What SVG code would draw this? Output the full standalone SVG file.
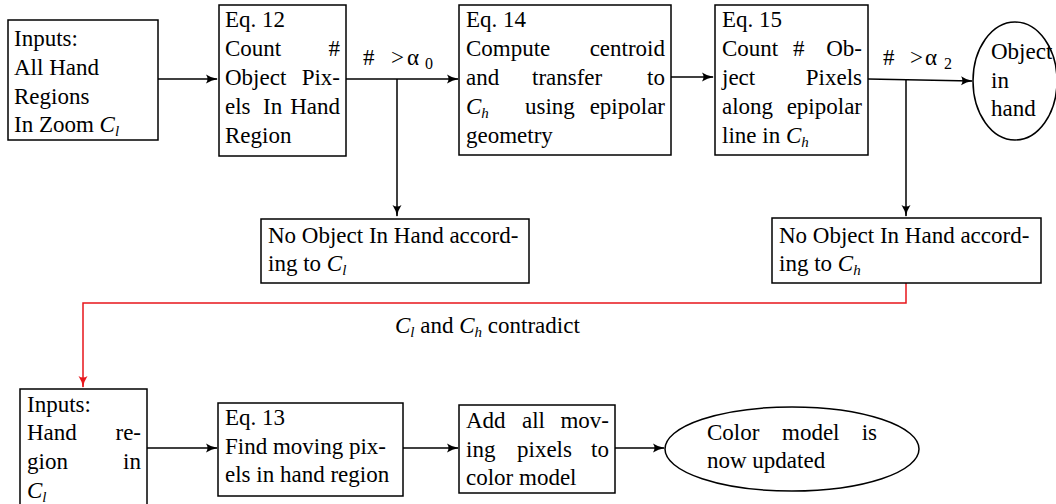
<svg xmlns="http://www.w3.org/2000/svg" width="1056" height="504" viewBox="0 0 1056 504">
<style>
.t{font-family:"Liberation Serif","Times New Roman",serif;font-size:23px;fill:#000}
.r{text-anchor:end}
.i{font-style:italic}
.s{font-size:15px;font-style:italic}
.n{font-size:16px}
.box{fill:#fff;stroke:#000;stroke-width:1.5}
.c{fill:none;stroke:#000;stroke-width:1.5}
.red{fill:none;stroke:#e8161b;stroke-width:1.5}
</style>
<defs>
<marker id="a" viewBox="0 0 12 10" refX="11" refY="5" markerWidth="12" markerHeight="10" markerUnits="userSpaceOnUse" orient="auto">
<path d="M0,0.5 Q5,4 12,5 Q5,6 0,9.5 Q3,5 0,0.5z" fill="#000"/>
</marker>
<marker id="ar" viewBox="0 0 12 10" refX="11" refY="5" markerWidth="12" markerHeight="10" markerUnits="userSpaceOnUse" orient="auto">
<path d="M0,0.5 Q5,4 12,5 Q5,6 0,9.5 Q3,5 0,0.5z" fill="#e8161b"/>
</marker>
</defs>
<rect width="1056" height="504" fill="#fff"/>
<g id="connectors">
<path class="c" d="M158,79 H217" marker-end="url(#a)"/>
<path class="c" d="M346,79 H458" marker-end="url(#a)"/>
<path class="c" d="M397,79 V216" marker-end="url(#a)"/>
<path class="c" d="M671,77 H713" marker-end="url(#a)"/>
<path class="c" d="M868,79 L972,81" marker-end="url(#a)"/>
<path class="c" d="M906,79 V216" marker-end="url(#a)"/>
<path class="red" d="M906,283 V303 H83 V387" marker-end="url(#ar)"/>
<path class="c" d="M147,448 H217" marker-end="url(#a)"/>
<path class="c" d="M403,448 H458" marker-end="url(#a)"/>
<path class="c" d="M615,448 H664" marker-end="url(#a)"/>
<text class="t" y="65"><tspan x="363">#</tspan><tspan x="391">&gt;</tspan><tspan x="407">α</tspan><tspan class="n" x="425" dy="4">0</tspan></text>
<text class="t" y="65"><tspan x="883">#</tspan><tspan x="910">&gt;</tspan><tspan x="925">α</tspan><tspan class="n" x="944" dy="4">2</tspan></text>
<text class="t" x="395" y="333"><tspan class="i">C</tspan><tspan class="s" dy="4">l</tspan><tspan dy="-4"> and </tspan><tspan class="i">C</tspan><tspan class="s" dy="4">h</tspan><tspan dy="-4"> contradict</tspan></text>
</g>
<g id="n1">
<rect class="box" x="8" y="20" width="150" height="120"/>
<text class="t" x="14" y="46">Inputs:</text>
<text class="t" x="14" y="75">All Hand</text>
<text class="t" x="14" y="104">Regions</text>
<text class="t" x="14" y="132">In Zoom <tspan class="i">C</tspan><tspan class="s" dy="4">l</tspan></text>
</g>
<g id="n2">
<rect class="box" x="219" y="5" width="127" height="151"/>
<text class="t" x="225" y="27">Eq. 12</text>
<text class="t" x="225" y="56">Count</text><text class="t r" x="340" y="56">#</text>
<text class="t" x="225" y="85">Object</text><text class="t r" x="340" y="85">Pix-</text>
<text class="t" x="225" y="114">els</text><text class="t" x="263" y="114">In</text><text class="t r" x="340" y="114">Hand</text>
<text class="t" x="225" y="143">Region</text>
</g>
<g id="n3">
<rect class="box" x="459" y="5" width="212" height="150"/>
<text class="t" x="466" y="27">Eq. 14</text>
<text class="t" x="466" y="56">Compute</text><text class="t r" x="665" y="56">centroid</text>
<text class="t" x="466" y="85">and</text><text class="t" x="532" y="85">transfer</text><text class="t r" x="665" y="85">to</text>
<text class="t" x="466" y="114"><tspan class="i">C</tspan><tspan class="s" dy="4">h</tspan></text><text class="t" x="525" y="114">using</text><text class="t r" x="665" y="114">epipolar</text>
<text class="t" x="466" y="143">geometry</text>
</g>
<g id="n4">
<rect class="box" x="715" y="5" width="153" height="150"/>
<text class="t" x="722" y="27">Eq. 15</text>
<text class="t" x="722" y="56">Count</text><text class="t" x="793" y="56">#</text><text class="t r" x="862" y="56">Ob-</text>
<text class="t" x="722" y="85">ject</text><text class="t r" x="862" y="85">Pixels</text>
<text class="t" x="722" y="114">along</text><text class="t r" x="862" y="114">epipolar</text>
<text class="t" x="722" y="143">line in <tspan class="i">C</tspan><tspan class="s" dy="4">h</tspan></text>
</g>
<g id="n5">
<ellipse class="box" cx="1015" cy="81" rx="42" ry="59"/>
<text class="t" x="991" y="59">Object</text>
<text class="t" x="991" y="88">in</text>
<text class="t" x="991" y="116">hand</text>
</g>
<g id="n6">
<rect class="box" x="261" y="219" width="268" height="64"/>
<text class="t" x="268" y="243">No Object In Hand accord-</text>
<text class="t" x="268" y="271">ing to <tspan class="i">C</tspan><tspan class="s" dy="4">l</tspan></text>
</g>
<g id="n7">
<rect class="box" x="772" y="218" width="269" height="65"/>
<text class="t" x="779" y="243">No Object In Hand accord-</text>
<text class="t" x="779" y="271">ing to <tspan class="i">C</tspan><tspan class="s" dy="4">h</tspan></text>
</g>
<g id="n8">
<rect class="box" x="20" y="389" width="127" height="125"/>
<text class="t" x="27" y="412">Inputs:</text>
<text class="t" x="27" y="440">Hand</text><text class="t r" x="141" y="440">re-</text>
<text class="t" x="27" y="469">gion</text><text class="t r" x="141" y="469">in</text>
<text class="t" x="27" y="498"><tspan class="i">C</tspan><tspan class="s" dy="4">l</tspan></text>
</g>
<g id="n9">
<rect class="box" x="218" y="403" width="185" height="93"/>
<text class="t" x="225" y="425">Eq. 13</text>
<text class="t" x="225" y="454">Find moving pix-</text>
<text class="t" x="225" y="482">els in hand region</text>
</g>
<g id="n10">
<rect class="box" x="459" y="405" width="156" height="88"/>
<text class="t" x="466" y="428">Add</text><text class="t" x="522" y="428">all</text><text class="t r" x="609" y="428">mov-</text>
<text class="t" x="466" y="457">ing</text><text class="t" x="517" y="457">pixels</text><text class="t r" x="609" y="457">to</text>
<text class="t" x="466" y="485">color model</text>
</g>
<g id="n11">
<ellipse class="box" cx="792" cy="449" rx="127" ry="42"/>
<text class="t" x="707" y="440">Color</text><text class="t" x="782" y="440">model</text><text class="t r" x="877" y="440">is</text>
<text class="t" x="707" y="468">now updated</text>
</g>
</svg>
